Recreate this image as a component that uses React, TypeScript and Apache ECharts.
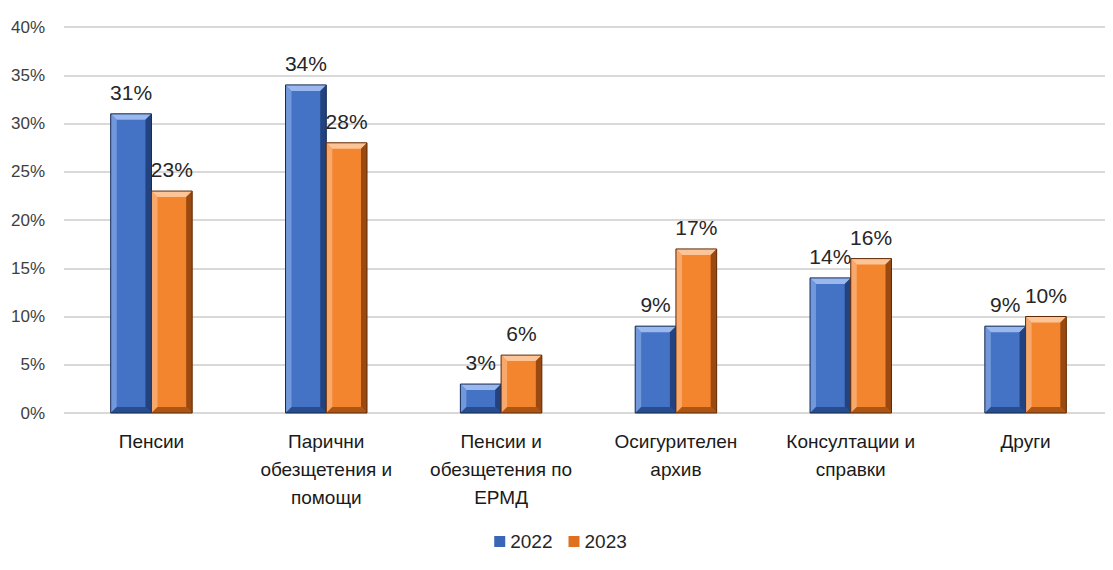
import React, { useEffect, useRef } from "react";
import * as echarts from "echarts";

const categories = [
  "Пенсии",
  "Парични\nобезщетения и\nпомощи",
  "Пенсии и\nобезщетения по\nЕРМД",
  "Осигурителен\nархив",
  "Консултации и\nсправки",
  "Други",
];
const seriesNames = ["2022", "2023"];
const values2022 = [31, 34, 3, 9, 14, 9];
const values2023 = [23, 28, 6, 17, 16, 10];
const yTicks = { min: 0, max: 40, interval: 5 };

const FONT = "'Liberation Sans', Arial, sans-serif";

const palettes = [
  { face: "#4472c4", light: "#7ea1e2", top: "#9ab7ee", dark: "#22437f", darker: "#142a55", legend: "#3a66b8" },
  { face: "#f4852f", light: "#fab07a", top: "#fdc597", dark: "#9a4a10", darker: "#5e2a06", legend: "#e07020" },
];

function makeRender(si: number) {
  return (params: any, api: any) => {
    const cat = api.value(0);
    const val = api.value(1);
    const top = api.coord([cat, val]);
    const base = api.coord([cat, 0]);
    const band = api.size([1, 0])[0];
    const w = band * 0.233;
    const x0 = top[0] - w + si * w;
    const x1 = x0 + w;
    const y0 = top[1];
    const y1 = base[1];
    const h = y1 - y0;
    const b = Math.min(6, h / 2.2, w / 2.2);
    const p = palettes[si];
    return {
      type: "group",
      children: [
        {
          type: "rect",
          shape: { x: x0, y: y0, width: w, height: h },
          style: {
            fill: {
              type: "linear", x: 0, y: 0, x2: 1, y2: 0,
              colorStops: [
                { offset: 0, color: p.face },
                { offset: 0.45, color: p.face },
                { offset: 1, color: p.face },
              ],
            },
          },
        },
        {
          type: "polygon",
          shape: { points: [[x0, y0], [x1, y0], [x1 - b, y0 + b], [x0 + b, y0 + b]] },
          style: { fill: p.top },
        },
        {
          type: "polygon",
          shape: { points: [[x0, y0], [x0 + b, y0 + b], [x0 + b, y1 - b], [x0, y1]] },
          style: { fill: p.light, opacity: 0.8 },
        },
        {
          type: "polygon",
          shape: { points: [[x1, y0], [x1, y1], [x1 - b, y1 - b], [x1 - b, y0 + b]] },
          style: { fill: p.dark },
        },
        {
          type: "polygon",
          shape: { points: [[x0, y1], [x1, y1], [x1 - b, y1 - b], [x0 + b, y1 - b]] },
          style: { fill: p.dark, opacity: 0.8 },
        },
        {
          type: "rect",
          shape: { x: x0, y: y0, width: w, height: h },
          style: { fill: "none", stroke: p.darker, lineWidth: 1 },
        },
        {
          type: "text",
          x: x0 + w / 2,
          y: y0 - 11,
          style: {
            text: val + "%",
            fill: "#262626",
            font: `21px ${FONT}`,
            align: "center",
            verticalAlign: "bottom",
          },
        },
      ],
    };
  };
}

export default function App() {
  const ref = useRef<HTMLDivElement>(null);
  useEffect(() => {
    if (!ref.current) return;
    const chart = echarts.init(ref.current, undefined, { renderer: "svg" });
    const dataSets = [values2022, values2023];
    chart.setOption({
      animation: false,
      backgroundColor: "#ffffff",
      textStyle: { fontFamily: FONT },
      grid: { left: 53, top: 19, width: 1055, height: 386, containLabel: false },
      legend: {
        data: seriesNames,
        bottom: 14,
        left: "center",
        icon: "rect",
        itemWidth: 11,
        itemHeight: 11,
        itemGap: 16,
        textStyle: { fontSize: 19, color: "#262626", fontFamily: FONT },
      },
      xAxis: {
        type: "category",
        data: categories,
        axisLine: { show: false },
        axisTick: { show: false },
        axisLabel: {
          interval: 0,
          fontSize: 19,
          lineHeight: 28,
          margin: 14,
          color: "#1a1a1a",
          fontFamily: FONT,
        },
      },
      yAxis: {
        type: "value",
        min: yTicks.min,
        max: yTicks.max,
        interval: yTicks.interval,
        axisLine: { show: false },
        axisTick: { show: false },
        axisLabel: {
          formatter: "{value}%",
          fontSize: 17,
          color: "#404040",
          margin: 19,
          fontFamily: FONT,
        },
        splitLine: { lineStyle: { color: "#d9d9d9", width: 2 } },
      },
      series: seriesNames.map((name, si) => ({
        name,
        type: "custom",
        itemStyle: { color: palettes[si].legend },
        renderItem: makeRender(si),
        encode: { x: 0, y: 1 },
        data: dataSets[si].map((v, i) => [i, v]),
        z: 2,
      })),
    });
    return () => chart.dispose();
  }, []);
  return <div ref={ref} style={{ width: 1105, height: 562 }} />;
}
